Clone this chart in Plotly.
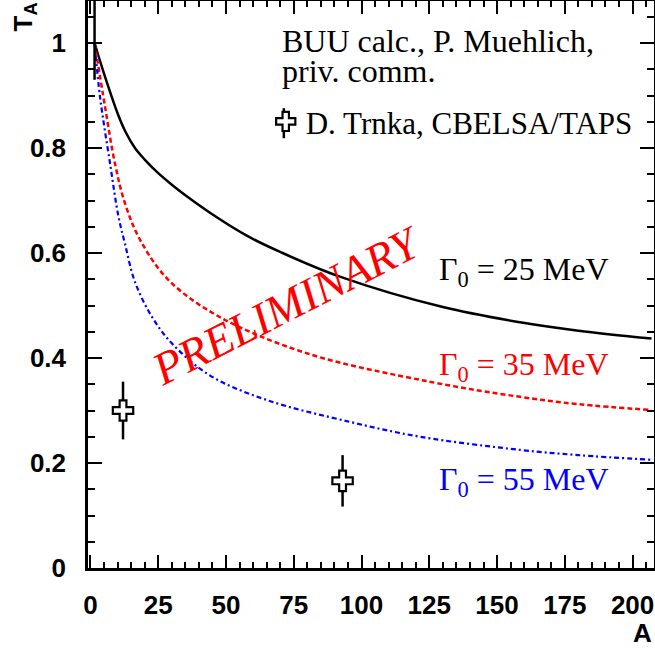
import plotly.graph_objects as go

# ---- data ----
A_25 = [1.5, 5.35, 10.3, 13, 16.4, 20, 25, 30, 35, 46.6, 58, 70, 92, 130, 158.5, 180, 207]
T_25 = [1.0, 0.936, 0.862, 0.830, 0.800, 0.778, 0.752, 0.730, 0.710, 0.668, 0.632, 0.602, 0.555, 0.497, 0.468, 0.452, 0.437]

A_35 = [1.5, 5.35, 9, 12.7, 18.3, 28.7, 47, 79.8, 125, 158.5, 180, 207]
T_35 = [1.0, 0.879, 0.771, 0.695, 0.625, 0.549, 0.480, 0.409, 0.355, 0.326, 0.312, 0.301]

A_55 = [1.5, 3.5, 7.2, 10.3, 12.7, 16.4, 22.6, 30, 44, 65, 96, 121.6, 158.5, 180, 207]
T_55 = [1.0, 0.898, 0.771, 0.670, 0.618, 0.545, 0.479, 0.428, 0.367, 0.320, 0.278, 0.250, 0.225, 0.215, 0.206]

A_data = [12, 93]
T_data = [0.300, 0.166]
T_err = [0.055, 0.049]

A_ref = [1.5]
T_ref = [1.0]
T_ref_up = [0.09]
T_ref_dn = [0.07]

labels = ["Γ<sub>0</sub> = 25 MeV", "Γ<sub>0</sub> = 35 MeV", "Γ<sub>0</sub> = 55 MeV"]
label_y = [0.564, 0.383, 0.164]
label_x = 127.9

serif = "Liberation Serif, Times New Roman, serif"
sans = "Liberation Sans, Arial, sans-serif"

fig = go.Figure()
fig.add_trace(go.Scatter(x=A_25, y=T_25, mode="lines", line=dict(color="black", width=2.5, shape="spline"), showlegend=False))
fig.add_trace(go.Scatter(x=A_35, y=T_35, mode="lines", line=dict(color="#ff0000", width=2.5, dash="5px,3px", shape="spline"), showlegend=False))
fig.add_trace(go.Scatter(x=A_55, y=T_55, mode="lines", line=dict(color="#0000ff", width=2.2, dash="5px,3px,2px,3px", shape="spline"), showlegend=False))

fig.add_trace(go.Scatter(
    x=A_ref, y=T_ref, mode="markers",
    marker=dict(size=2, opacity=0),
    error_y=dict(type="data", symmetric=False, array=T_ref_up, arrayminus=T_ref_dn, color="black", thickness=2.5, width=0),
    showlegend=False))

fig.add_trace(go.Scatter(
    x=A_data, y=T_data, mode="markers", name="D. Trnka, CBELSA/TAPS",
    marker=dict(symbol="cross", size=17, color="white", line=dict(color="black", width=2.2)),
    error_y=dict(type="data", array=T_err, color="black", thickness=2.5, width=0),
    showlegend=True))

colors = ["black", "#ff0000", "#0000ff"]
for txt, yy, c in zip(labels, label_y, colors):
    fig.add_annotation(x=label_x, y=yy, xref="x", yref="y", text=txt, showarrow=False,
                       xanchor="left", yanchor="middle", font=dict(family=serif, size=32, color=c))

fig.add_annotation(x=72.5, y=0.50, xref="x", yref="y", text="PRELIMINARY", showarrow=False,
                   textangle=-27, font=dict(family=serif, size=46, color="#ff0000", style="italic"))

fig.add_annotation(x=0.339, y=0.930, xref="paper", yref="paper", text="BUU calc., P. Muehlich,",
                   showarrow=False, xanchor="left", yanchor="middle", font=dict(family=serif, size=32, color="black"))
fig.add_annotation(x=0.339, y=0.876, xref="paper", yref="paper", text="priv. comm.",
                   showarrow=False, xanchor="left", yanchor="middle", font=dict(family=serif, size=32, color="black"))

# legend symbol's error bar (decoration)
fig.add_shape(type="line", xref="paper", yref="paper", x0=0.346, x1=0.346, y0=0.758, y1=0.811,
              line=dict(color="black", width=2.5), layer="above")

# axis titles
fig.add_annotation(x=1, y=0, xref="paper", yref="paper", text="<b>A</b>", showarrow=False,
                   xanchor="right", yanchor="middle", yshift=-65, xshift=0,
                   font=dict(family=sans, size=26, color="black"))
fig.add_annotation(x=0, y=1, xref="paper", yref="paper", text="<b>T<sub>A</sub></b>", showarrow=False,
                   textangle=-90, xanchor="center", yanchor="top", xshift=-64, yshift=0,
                   font=dict(family=sans, size=26, color="black"))

fig.update_xaxes(range=[-0.92, 207.9], showgrid=False, zeroline=False,
                 showline=True, linecolor="black", linewidth=2.5, mirror="ticks",
                 ticks="inside", ticklen=13, tickwidth=2, tickcolor="black",
                 tick0=0, dtick=25, ticklabelstandoff=12,
                 minor=dict(ticks="inside", ticklen=6, tickwidth=2, tickcolor="black", dtick=5, tick0=0),
                 tickfont=dict(family=sans, size=26, color="black", weight="bold"))
fig.update_yaxes(range=[0, 1.08], showgrid=False, zeroline=False,
                 showline=True, linecolor="black", linewidth=2.5, mirror="ticks",
                 ticks="inside", ticklen=14, tickwidth=2, tickcolor="black",
                 tickvals=[0, 0.2, 0.4, 0.6, 0.8, 1.0], ticktext=["0", "0.2", "0.4", "0.6", "0.8", "1"],
                 ticklabelstandoff=14,
                 minor=dict(ticks="inside", ticklen=7, tickwidth=2, tickcolor="black", dtick=0.05, tick0=0),
                 tickfont=dict(family=sans, size=26, color="black", weight="bold"))

fig.update_layout(
    width=655, height=652,
    margin=dict(l=88, r=1, t=1, b=84, autoexpand=False),
    paper_bgcolor="white", plot_bgcolor="white",
    legend=dict(x=0.314, y=0.787, xanchor="left", yanchor="middle", bgcolor="rgba(0,0,0,0)",
                font=dict(family=serif, size=31, color="black"), itemwidth=30),
)

fig.write_html("out.html")
